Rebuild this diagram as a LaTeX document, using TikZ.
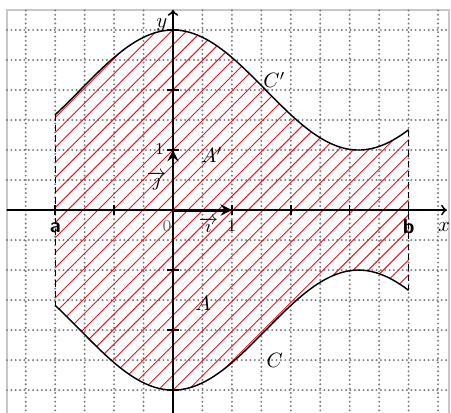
\documentclass[tikz,border=0pt]{standalone}
\usepackage{amsmath}
\usetikzlibrary{positioning}
\definecolor{gridgray}{HTML}{7A7A7A}
\definecolor{framegray}{HTML}{C8C8C8}
\definecolor{hatchred}{HTML}{E8141E}
\definecolor{zerogray}{HTML}{666666}

\begin{document}
\begin{tikzpicture}[
			x=1cm,
			y=1.019cm,
			>=stealth,
			every node/.style={inner sep=0pt},
			gridline/.style={gridgray, line width=1.05pt, line cap=round, dash pattern=on 0pt off 2.1pt},
			curve/.style={black, line width=0.7pt},
			num/.style={font=\footnotesize},
			letter/.style={font=\normalsize}
		]
			\useasboundingbox (-2.937,-3.367) rectangle (4.720,3.5);
			\draw[framegray, line width=0.5pt] (-2.818,-3.7) rectangle (4.686,3.333);

			% dotted grid
			\foreach \x in {-2.5,-2,...,4.5}
				\draw[gridline] (\x,-3.7) -- (\x,3.333);
			\foreach \y in {-3,-2.5,...,3}
				\draw[gridline] (-2.818,\y) -- (4.686,\y);

			% hatched region between C and C'
			\begin{scope}
				\clip plot[domain=-2:4, samples=61] (\x,{2+cos(57.14*\x)})
					-- plot[domain=4:-2, samples=61] (\x,{-2-cos(57.14*\x)}) -- cycle;
				\foreach \k in {-22,...,30}
					\draw[hatchred, line width=0.45pt]
						(\k*0.255cm-8cm,-8cm) -- ++(16cm,16cm);
			\end{scope}

			\coordinate (aTop) at (-2,1.589);
			\coordinate (aBot) at (-2,-1.589);
			\coordinate (bTop) at (4,1.338);
			\coordinate (bBot) at (4,-1.338);

			\draw[curve] plot[domain=-2:4, samples=90] (\x,{2+cos(57.14*\x)});
			\draw[curve] plot[domain=-2:4, samples=90] (\x,{-2-cos(57.14*\x)});
			\draw[densely dashed, line width=0.5pt] (aTop) -- (aBot);
			\draw[densely dashed, line width=0.5pt] (bTop) -- (bBot);

			% axes
			\coordinate (xs) at (-2.818,0);
			\coordinate (xe) at (4.65,0);
			\coordinate (ys) at (0,-3.7);
			\coordinate (ye) at (0,3.333);
			\coordinate (O) at (0,0);
			\draw[-to, line width=0.9pt] (xs) -- (xe);
			\draw[-to, line width=0.9pt] (ys) -- (ye);
			\foreach \x in {-2,-1,1,2,3,4}
				\draw[line width=0.7pt] (\x,-0.08) -- (\x,0.08);
			\foreach \y in {-3,-2,-1,1,2,3}
				\draw[line width=0.7pt] (-0.1,\y) -- (0.1,\y);

			% unit vectors
			\coordinate (I) at (1,0);
			\coordinate (J) at (0,1);
			\draw[->, line width=1.4pt] (O) -- (I);
			\draw[->, line width=1.4pt] (O) -- (J);

			% labels
			\node[letter] (lbly) at (-0.19,3.08) {$y$};
			\node[letter] (lblx) at (4.60,-0.29) {$x$};
			\node[font=\sffamily\bfseries] (lbla) at (-2.0,-0.30) {a};
			\node[font=\sffamily\bfseries] (lblb) at (4.0,-0.27) {b};
			\node[num, text=zerogray] (lblO) at (-0.1,-0.26) {$0$};
			\node[num] (lblxone) at (1.0,-0.27) {$1$};
			\node[num] (lblyone) at (-0.23,1.02) {$1$};
			\node[font=\small] (lbli) at (0.6,-0.25) {$\overrightarrow{\imath}$};
			\node[font=\small] (lblj) at (-0.28,0.48) {$\overrightarrow{\jmath}$};
			\node[letter] (lblAp) at (0.66,0.92) {$A'$};
			\node[letter] (lblA) at (0.51,-1.55) {$A$};
			\node[letter] (lblCp) at (1.72,2.17) {$C'$};
			\node[letter] (lblC) at (1.73,-2.50) {$C$};
		\end{tikzpicture}
\end{document}
